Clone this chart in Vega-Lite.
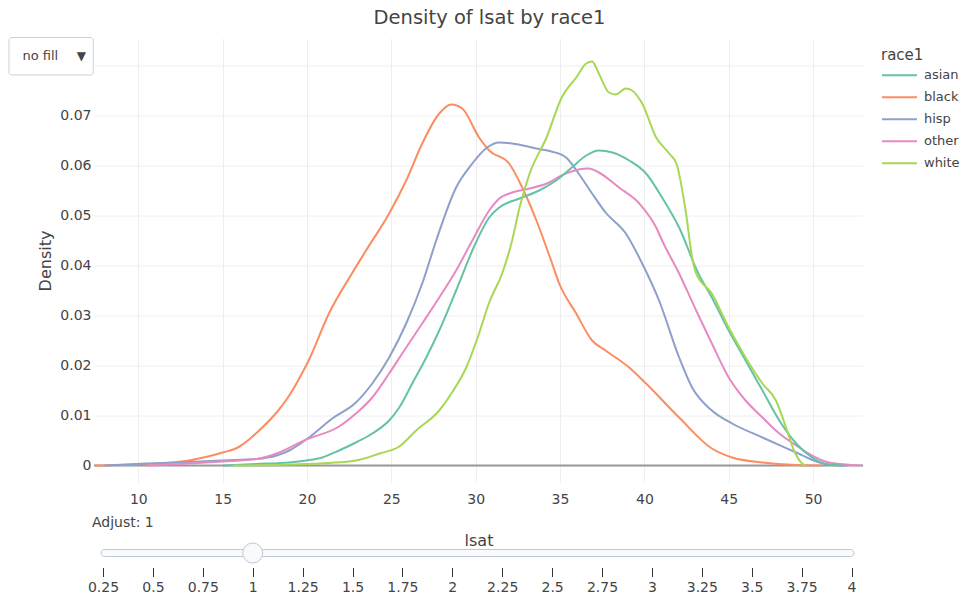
{
  "$schema": "https://vega.github.io/schema/vega-lite/v6.json",
  "background": "white",
  "padding": {"left": 8, "top": 7.5, "right": 0, "bottom": 0},
  "bounds": "flush",
  "spacing": 67,
  "config": {
    "font": "DejaVu Sans",
    "view": {"stroke": null},
    "axis": {"labelColor": "#444", "titleColor": "#444", "labelFont": "DejaVu Sans", "titleFont": "DejaVu Sans", "titleFontWeight": "normal"},
    "legend": {
      "symbolType": "stroke", "symbolSize": 1225, "symbolStrokeWidth": 2, "clipHeight": 21.6, "rowPadding": 0,
      "labelFontSize": 13, "labelColor": "#444", "labelFont": "DejaVu Sans", "labelOffset": 6,
      "titleFontSize": 15, "titleColor": "#444", "titleFont": "DejaVu Sans", "titleFontWeight": "normal", "titlePadding": 2,
      "padding": 9, "offset": 6
    },
    "title": {"font": "DejaVu Sans", "fontWeight": "normal", "color": "#444"}
  },
  "datasets": {
    "density": [
      {"race1": "black", "lsat": 7.4, "density": 0},
      {"race1": "black", "lsat": 9, "density": 0.0001},
      {"race1": "black", "lsat": 10, "density": 0.0002},
      {"race1": "black", "lsat": 11, "density": 0.0003},
      {"race1": "black", "lsat": 12, "density": 0.0006},
      {"race1": "black", "lsat": 13, "density": 0.001},
      {"race1": "black", "lsat": 14, "density": 0.0017},
      {"race1": "black", "lsat": 15, "density": 0.0026},
      {"race1": "black", "lsat": 15.9, "density": 0.0036},
      {"race1": "black", "lsat": 16.6, "density": 0.0053},
      {"race1": "black", "lsat": 17.35, "density": 0.0076},
      {"race1": "black", "lsat": 18.2, "density": 0.0106},
      {"race1": "black", "lsat": 18.95, "density": 0.014},
      {"race1": "black", "lsat": 19.7, "density": 0.0184},
      {"race1": "black", "lsat": 20.1, "density": 0.021},
      {"race1": "black", "lsat": 21.3, "density": 0.0304},
      {"race1": "black", "lsat": 22.7, "density": 0.0386},
      {"race1": "black", "lsat": 23.5, "density": 0.043},
      {"race1": "black", "lsat": 24.87, "density": 0.0504},
      {"race1": "black", "lsat": 25.88, "density": 0.057},
      {"race1": "black", "lsat": 26.83, "density": 0.0644},
      {"race1": "black", "lsat": 27.84, "density": 0.0704},
      {"race1": "black", "lsat": 28.55, "density": 0.0722},
      {"race1": "black", "lsat": 29.2, "density": 0.0714},
      {"race1": "black", "lsat": 30.2, "density": 0.0656},
      {"race1": "black", "lsat": 30.8, "density": 0.063},
      {"race1": "black", "lsat": 31.98, "density": 0.0604},
      {"race1": "black", "lsat": 32.76, "density": 0.0556},
      {"race1": "black", "lsat": 33.6, "density": 0.049},
      {"race1": "black", "lsat": 34.47, "density": 0.041},
      {"race1": "black", "lsat": 34.95, "density": 0.0364},
      {"race1": "black", "lsat": 35.96, "density": 0.0304},
      {"race1": "black", "lsat": 36.9, "density": 0.025},
      {"race1": "black", "lsat": 37.7, "density": 0.023},
      {"race1": "black", "lsat": 39.1, "density": 0.0196},
      {"race1": "black", "lsat": 40.1, "density": 0.0164},
      {"race1": "black", "lsat": 42.06, "density": 0.0096},
      {"race1": "black", "lsat": 44.0, "density": 0.0034},
      {"race1": "black", "lsat": 45.2, "density": 0.0016},
      {"race1": "black", "lsat": 47.0, "density": 0.0006},
      {"race1": "black", "lsat": 49.0, "density": 0.0001},
      {"race1": "black", "lsat": 50.5, "density": 0},

      {"race1": "hisp", "lsat": 8.0, "density": 0},
      {"race1": "hisp", "lsat": 10.5, "density": 0.0004},
      {"race1": "hisp", "lsat": 13, "density": 0.0007},
      {"race1": "hisp", "lsat": 15, "density": 0.001},
      {"race1": "hisp", "lsat": 17, "density": 0.0013},
      {"race1": "hisp", "lsat": 18.2, "density": 0.002},
      {"race1": "hisp", "lsat": 18.95, "density": 0.003},
      {"race1": "hisp", "lsat": 19.96, "density": 0.0052},
      {"race1": "hisp", "lsat": 21.5, "density": 0.0094},
      {"race1": "hisp", "lsat": 22.9, "density": 0.0126},
      {"race1": "hisp", "lsat": 23.87, "density": 0.0164},
      {"race1": "hisp", "lsat": 24.87, "density": 0.0216},
      {"race1": "hisp", "lsat": 25.88, "density": 0.0284},
      {"race1": "hisp", "lsat": 26.83, "density": 0.0364},
      {"race1": "hisp", "lsat": 27.66, "density": 0.045},
      {"race1": "hisp", "lsat": 28.84, "density": 0.0556},
      {"race1": "hisp", "lsat": 29.8, "density": 0.0604},
      {"race1": "hisp", "lsat": 30.68, "density": 0.0636},
      {"race1": "hisp", "lsat": 31.4, "density": 0.0646},
      {"race1": "hisp", "lsat": 32.16, "density": 0.0644},
      {"race1": "hisp", "lsat": 33.6, "density": 0.0634},
      {"race1": "hisp", "lsat": 34.5, "density": 0.0628},
      {"race1": "hisp", "lsat": 35.36, "density": 0.0616},
      {"race1": "hisp", "lsat": 36.1, "density": 0.0584},
      {"race1": "hisp", "lsat": 36.9, "density": 0.0544},
      {"race1": "hisp", "lsat": 37.7, "density": 0.0506},
      {"race1": "hisp", "lsat": 38.9, "density": 0.0464},
      {"race1": "hisp", "lsat": 39.87, "density": 0.0404},
      {"race1": "hisp", "lsat": 40.87, "density": 0.033},
      {"race1": "hisp", "lsat": 42.06, "density": 0.0216},
      {"race1": "hisp", "lsat": 42.83, "density": 0.0156},
      {"race1": "hisp", "lsat": 44.0, "density": 0.011},
      {"race1": "hisp", "lsat": 45.2, "density": 0.0084},
      {"race1": "hisp", "lsat": 47.0, "density": 0.0056},
      {"race1": "hisp", "lsat": 49.0, "density": 0.0026},
      {"race1": "hisp", "lsat": 50.2, "density": 0.0008},
      {"race1": "hisp", "lsat": 51.1, "density": 0.0001},
      {"race1": "hisp", "lsat": 52.0, "density": 0},

      {"race1": "other", "lsat": 10.5, "density": 0},
      {"race1": "other", "lsat": 13, "density": 0.0004},
      {"race1": "other", "lsat": 15, "density": 0.0008},
      {"race1": "other", "lsat": 17, "density": 0.0013},
      {"race1": "other", "lsat": 18.2, "density": 0.0024},
      {"race1": "other", "lsat": 19.96, "density": 0.0052},
      {"race1": "other", "lsat": 21.9, "density": 0.0078},
      {"race1": "other", "lsat": 22.9, "density": 0.0104},
      {"race1": "other", "lsat": 23.87, "density": 0.0136},
      {"race1": "other", "lsat": 24.87, "density": 0.0184},
      {"race1": "other", "lsat": 25.88, "density": 0.0236},
      {"race1": "other", "lsat": 26.83, "density": 0.0284},
      {"race1": "other", "lsat": 27.84, "density": 0.0336},
      {"race1": "other", "lsat": 28.84, "density": 0.039},
      {"race1": "other", "lsat": 29.8, "density": 0.045},
      {"race1": "other", "lsat": 30.8, "density": 0.051},
      {"race1": "other", "lsat": 31.4, "density": 0.0534},
      {"race1": "other", "lsat": 32.16, "density": 0.0546},
      {"race1": "other", "lsat": 33.2, "density": 0.0554},
      {"race1": "other", "lsat": 34.36, "density": 0.0566},
      {"race1": "other", "lsat": 35.1, "density": 0.058},
      {"race1": "other", "lsat": 36.1, "density": 0.0592},
      {"race1": "other", "lsat": 36.7, "density": 0.0594},
      {"race1": "other", "lsat": 37.3, "density": 0.0586},
      {"race1": "other", "lsat": 38.5, "density": 0.0556},
      {"race1": "other", "lsat": 39.7, "density": 0.0524},
      {"race1": "other", "lsat": 40.7, "density": 0.0476},
      {"race1": "other", "lsat": 41.05, "density": 0.045},
      {"race1": "other", "lsat": 42.06, "density": 0.0384},
      {"race1": "other", "lsat": 43.07, "density": 0.031},
      {"race1": "other", "lsat": 44.0, "density": 0.0244},
      {"race1": "other", "lsat": 45.0, "density": 0.0176},
      {"race1": "other", "lsat": 46.0, "density": 0.013},
      {"race1": "other", "lsat": 47.0, "density": 0.0096},
      {"race1": "other", "lsat": 48.0, "density": 0.0064},
      {"race1": "other", "lsat": 49.0, "density": 0.004},
      {"race1": "other", "lsat": 49.94, "density": 0.002},
      {"race1": "other", "lsat": 50.95, "density": 0.0006},
      {"race1": "other", "lsat": 52.9, "density": 0},

      {"race1": "asian", "lsat": 15, "density": 0},
      {"race1": "asian", "lsat": 17, "density": 0.0003},
      {"race1": "asian", "lsat": 18.95, "density": 0.0006},
      {"race1": "asian", "lsat": 19.96, "density": 0.001},
      {"race1": "asian", "lsat": 20.9, "density": 0.0016},
      {"race1": "asian", "lsat": 21.9, "density": 0.003},
      {"race1": "asian", "lsat": 22.9, "density": 0.0046},
      {"race1": "asian", "lsat": 23.87, "density": 0.0064},
      {"race1": "asian", "lsat": 24.87, "density": 0.009},
      {"race1": "asian", "lsat": 25.47, "density": 0.0116},
      {"race1": "asian", "lsat": 26.24, "density": 0.0164},
      {"race1": "asian", "lsat": 27.07, "density": 0.0216},
      {"race1": "asian", "lsat": 27.84, "density": 0.027},
      {"race1": "asian", "lsat": 28.84, "density": 0.035},
      {"race1": "asian", "lsat": 30.0, "density": 0.0445},
      {"race1": "asian", "lsat": 30.8, "density": 0.0496},
      {"race1": "asian", "lsat": 31.4, "density": 0.0516},
      {"race1": "asian", "lsat": 32.6, "density": 0.0534},
      {"race1": "asian", "lsat": 33.76, "density": 0.055},
      {"race1": "asian", "lsat": 34.77, "density": 0.057},
      {"race1": "asian", "lsat": 35.7, "density": 0.0596},
      {"race1": "asian", "lsat": 36.55, "density": 0.062},
      {"race1": "asian", "lsat": 37.3, "density": 0.063},
      {"race1": "asian", "lsat": 38.1, "density": 0.0626},
      {"race1": "asian", "lsat": 39.1, "density": 0.061},
      {"race1": "asian", "lsat": 40.1, "density": 0.0584},
      {"race1": "asian", "lsat": 41.05, "density": 0.0536},
      {"race1": "asian", "lsat": 42.06, "density": 0.0476},
      {"race1": "asian", "lsat": 43.2, "density": 0.0384},
      {"race1": "asian", "lsat": 44.0, "density": 0.0336},
      {"race1": "asian", "lsat": 45.0, "density": 0.027},
      {"race1": "asian", "lsat": 46.0, "density": 0.021},
      {"race1": "asian", "lsat": 47.0, "density": 0.015},
      {"race1": "asian", "lsat": 48.0, "density": 0.009},
      {"race1": "asian", "lsat": 49.0, "density": 0.0044},
      {"race1": "asian", "lsat": 49.94, "density": 0.0016},
      {"race1": "asian", "lsat": 50.95, "density": 0.0002},
      {"race1": "asian", "lsat": 51.8, "density": 0},

      {"race1": "white", "lsat": 15.6, "density": 0},
      {"race1": "white", "lsat": 19, "density": 0.0002},
      {"race1": "white", "lsat": 21.3, "density": 0.0005},
      {"race1": "white", "lsat": 22.9, "density": 0.001},
      {"race1": "white", "lsat": 24.3, "density": 0.0024},
      {"race1": "white", "lsat": 25.47, "density": 0.0038},
      {"race1": "white", "lsat": 26.47, "density": 0.007},
      {"race1": "white", "lsat": 27.84, "density": 0.011},
      {"race1": "white", "lsat": 28.6, "density": 0.0146},
      {"race1": "white", "lsat": 29.44, "density": 0.0196},
      {"race1": "white", "lsat": 30.2, "density": 0.0264},
      {"race1": "white", "lsat": 30.8, "density": 0.0326},
      {"race1": "white", "lsat": 31.57, "density": 0.0384},
      {"race1": "white", "lsat": 32.16, "density": 0.045},
      {"race1": "white", "lsat": 32.6, "density": 0.0516},
      {"race1": "white", "lsat": 33.2, "density": 0.0584},
      {"race1": "white", "lsat": 34.2, "density": 0.0656},
      {"race1": "white", "lsat": 35.1, "density": 0.0736},
      {"race1": "white", "lsat": 35.96, "density": 0.0776},
      {"race1": "white", "lsat": 36.55, "density": 0.0804},
      {"race1": "white", "lsat": 36.9, "density": 0.0808},
      {"race1": "white", "lsat": 37.3, "density": 0.0784},
      {"race1": "white", "lsat": 37.9, "density": 0.0746},
      {"race1": "white", "lsat": 38.3, "density": 0.0742},
      {"race1": "white", "lsat": 38.9, "density": 0.0754},
      {"race1": "white", "lsat": 39.27, "density": 0.075},
      {"race1": "white", "lsat": 39.87, "density": 0.0724},
      {"race1": "white", "lsat": 40.7, "density": 0.0656},
      {"race1": "white", "lsat": 41.47, "density": 0.0624},
      {"race1": "white", "lsat": 41.9, "density": 0.0604},
      {"race1": "white", "lsat": 42.47, "density": 0.0504},
      {"race1": "white", "lsat": 42.83, "density": 0.0416},
      {"race1": "white", "lsat": 43.07, "density": 0.0384},
      {"race1": "white", "lsat": 44.0, "density": 0.0344},
      {"race1": "white", "lsat": 45.0, "density": 0.0276},
      {"race1": "white", "lsat": 46.0, "density": 0.0216},
      {"race1": "white", "lsat": 47.0, "density": 0.0164},
      {"race1": "white", "lsat": 47.8, "density": 0.013},
      {"race1": "white", "lsat": 48.4, "density": 0.0076},
      {"race1": "white", "lsat": 48.87, "density": 0.003},
      {"race1": "white", "lsat": 49.35, "density": 0.0004},
      {"race1": "white", "lsat": 49.6, "density": 0}
    ],
    "slider": [{"adjust": 1, "min": 0.25, "max": 4}]
  },
  "vconcat": [
    {
      "width": 769,
      "height": 444,
      "title": {"text": "Density of lsat by race1", "fontSize": 19.5, "anchor": "middle", "dx": 11, "offset": 9},
      "layer": [
        {
          "data": {"values": [{}]},
          "mark": {"type": "rule", "color": "#999999", "strokeWidth": 2},
          "encoding": {"y": {"datum": 0, "type": "quantitative"}}
        },
        {
          "data": {"name": "density"},
          "mark": {"type": "line", "interpolate": "monotone", "strokeWidth": 2},
          "encoding": {
            "x": {
              "field": "lsat", "type": "quantitative",
              "scale": {"domain": [7.374, 52.96], "nice": false, "zero": false},
              "axis": {"values": [10, 15, 20, 25, 30, 35, 40, 45, 50], "title": "lsat", "grid": true, "gridColor": "#eeeeee", "ticks": false, "domain": false, "labelFontSize": 14, "labelPadding": 9.5, "titleFontSize": 16, "titlePadding": 26}
            },
            "y": {
              "field": "density", "type": "quantitative",
              "scale": {"domain": [-0.0034, 0.0854], "nice": false, "zero": false},
              "axis": {"values": [0, 0.01, 0.02, 0.03, 0.04, 0.05, 0.06, 0.07, 0.08], "format": ".2~f", "labelExpr": "datum.value > 0.075 ? '' : datum.label", "title": "Density", "grid": true, "gridColor": "#eeeeee", "ticks": false, "domain": false, "labelFontSize": 14, "labelPadding": 3, "titleFontSize": 16, "titlePadding": 6}
            },
            "color": {
              "field": "race1", "type": "nominal",
              "scale": {"domain": ["asian", "black", "hisp", "other", "white"], "range": ["#66c2a5", "#fc8d62", "#8da0cb", "#e78ac3", "#a6d854"]},
              "legend": {"title": "race1"}
            }
          }
        },
        {
          "data": {"values": [{"label": "no fill"}]},
          "mark": {"type": "rect", "fill": "white", "stroke": "#c9d0dc", "strokeWidth": 1, "cornerRadius": 3},
          "encoding": {
            "x": {"datum": 2.335, "type": "quantitative"},
            "x2": {"datum": 7.33},
            "y": {"datum": 0.0856, "type": "quantitative"},
            "y2": {"datum": 0.0781}
          }
        },
        {
          "data": {"values": [{"label": "no fill"}]},
          "mark": {"type": "text", "align": "left", "baseline": "middle", "fontSize": 13, "color": "#444"},
          "encoding": {
            "x": {"datum": 3.13, "type": "quantitative"},
            "y": {"datum": 0.0819, "type": "quantitative"},
            "text": {"field": "label"}
          }
        },
        {
          "data": {"values": [{"label": "▼"}]},
          "mark": {"type": "text", "align": "center", "baseline": "middle", "fontSize": 12, "color": "#444"},
          "encoding": {
            "x": {"datum": 6.62, "type": "quantitative"},
            "y": {"datum": 0.0819, "type": "quantitative"},
            "text": {"field": "label"}
          }
        }
      ]
    },
    {
      "width": 769,
      "height": 7,
      "data": {"name": "slider"},
      "title": {"text": "Adjust: 1", "anchor": "start", "fontSize": 14, "offset": 11, "dx": 4.5},
      "layer": [
        {
          "mark": {"type": "rect", "fill": "#f8fafc", "stroke": "#bec8d9", "strokeWidth": 1, "cornerRadius": 3.5, "xOffset": -2, "x2Offset": 2.5},
          "encoding": {
            "x": {
              "field": "min", "type": "quantitative",
              "scale": {"domain": [0.2049, 4.0576], "nice": false, "zero": false},
              "axis": {"values": [0.25, 0.5, 0.75, 1, 1.25, 1.5, 1.75, 2, 2.25, 2.5, 2.75, 3, 3.25, 3.5, 3.75, 4], "format": ".2~f", "title": null, "grid": false, "domain": false, "ticks": true, "tickSize": 9, "tickColor": "#333", "offset": 11, "labelFontSize": 14, "labelPadding": 4}
            },
            "x2": {"field": "max"}
          }
        },
        {
          "mark": {"type": "point", "shape": "circle", "filled": true, "size": 400, "fill": "#f8fafc", "stroke": "#bec8d9", "strokeWidth": 1, "opacity": 1},
          "encoding": {
            "x": {"field": "adjust", "type": "quantitative"}
          }
        }
      ]
    }
  ]
}
